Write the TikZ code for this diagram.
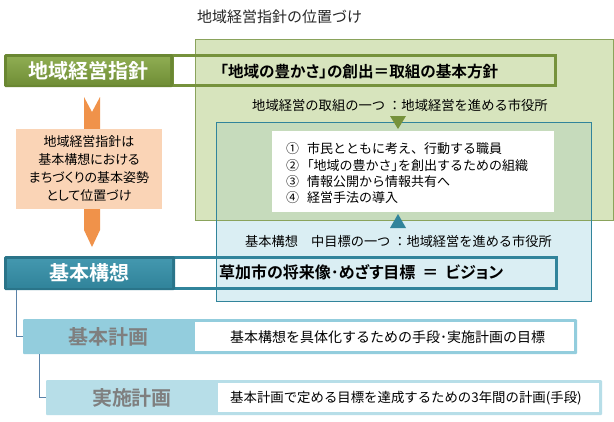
\documentclass[tikz,border=0pt]{standalone}
\usepackage{fontspec}
\setmainfont{Noto Sans CJK JP}[BoldFont={Noto Sans CJK JP Bold}]
\newfontfamily\jpp{Noto Sans CJK JP}[BoldFont={Noto Sans CJK JP Bold},RawFeature=+palt]
\definecolor{gbar}{HTML}{6A8732}
\definecolor{gbarT}{HTML}{8EAC52}
\definecolor{gbarB}{HTML}{718F37}
\definecolor{gline}{HTML}{76923C}
\definecolor{gfill}{HTML}{D7E4BD}
\definecolor{gedge}{HTML}{8AA35C}
\definecolor{bfill}{HTML}{DAEEF3}
\definecolor{bedge}{HTML}{31849B}
\definecolor{ovl}{HTML}{C6DBBC}
\definecolor{tbar}{HTML}{2A7489}
\definecolor{tbarT}{HTML}{4397AE}
\definecolor{tbarB}{HTML}{31849B}
\definecolor{orng}{HTML}{F0924A}
\definecolor{peach}{HTML}{FAD4B6}
\definecolor{kb1}{HTML}{93CDDD}
\definecolor{kb2}{HTML}{B7DEE8}
\definecolor{gtext}{HTML}{7F7F7F}
\definecolor{conn}{HTML}{5A82A8}
\begin{document}
\begin{tikzpicture}[x=1pt,y=-1pt,
  box/.style={rectangle,inner sep=0pt,outer sep=0pt,anchor=north west},
  lbl/.style={inner sep=0pt,anchor=west,text=black},
  bartext/.style={inner sep=0pt,text=white,font=\jpp\bfseries\fontsize{20}{20}\selectfont},
  graytext/.style={inner sep=0pt,text=gtext,font=\jpp\bfseries\fontsize{20}{20}\selectfont},
  connector/.style={draw=conn,line width=1pt}]
\useasboundingbox[fill=white] (0,0) rectangle (614,421);

% title
\node[lbl,font=\fontsize{15}{15}\selectfont,text=black!85] (title) at (197,17) {地域経営指針の位置づけ};

% large green and blue areas
\node[box,fill=gfill,minimum width=418,minimum height=181] (green) at (195,39) {};
\node[box,fill=bfill,minimum width=375,minimum height=179] (blue) at (216,122) {};
\node[box,fill=ovl,minimum width=375,minimum height=98] (overlap) at (216,122) {};
\draw[gedge,line width=1pt] (green.north west) rectangle (green.south east);
\draw[bedge,line width=1pt] (blue.north west) rectangle (blue.south east);

% list box
\node[box,fill=white,minimum width=282,minimum height=81] (list) at (272,131) {};
\node[inner sep=0pt,anchor=west,align=left,font=\fontsize{13}{16.3}\selectfont] (items) at (286,173.5)
 {①\hspace{8pt}市民とともに考え、行動する職員\\
  ②\hspace{8pt}{\jpp「}地域の豊かさ{\jpp」}を創出するための組織\\
  ③\hspace{8pt}情報公開から情報共有へ\\
  ④\hspace{8pt}経営手法の導入};

% triangles
\coordinate (dtri) at (398,116);
\coordinate (utri) at (398,228);
\fill[gline] (dtri) ++(-8,0) -- ++(16,0) -- ++(-8,13) -- cycle;
\fill[bedge] (utri) ++(-8,0) -- ++(16,0) -- ++(-8,-14) -- cycle;

\node[lbl,font=\fontsize{13.3}{13.3}\selectfont] (sub1) at (252,105) {地域経営の取組の一つ ：地域経営を進める市役所};
\node[lbl,font=\fontsize{13.2}{13.2}\selectfont] (sub2) at (245,241) {基本構想　中目標の一つ ：地域経営を進める市役所};

% green header
\draw[gline,line width=3.5pt] (172,55.7) rectangle (555.3,85.3);
\node[box,fill=gbar,rounded corners=1.5pt,minimum width=169,minimum height=33] (gb) at (4,54) {};
\fill[top color=gbarT,bottom color=gbarB] (7,57) rectangle (170,84);
\node[bartext] (gbt) at (gb.center) {地域経営指針};
\node[lbl,font=\jpp\bfseries\fontsize{15.6}{16}\selectfont] (policy) at (220,71.5) {「地域の豊かさ」の創出＝取組の基本方針};

% orange arrow and peach box
\fill[orng] (84,97) -- (92,112) -- (100,97) -- (100,230) -- (92,247) -- (84,230) -- cycle;
\node[box,fill=peach,minimum width=146,minimum height=80] (peach) at (16,129) {};
\node[inner sep=0pt,align=center,font=\jpp\fontsize{13}{18}\selectfont] (peachtext) at (89,169)
 {地域経営指針は\\基本構想における\\まちづくりの基本姿勢\\として位置づけ};

% teal header
\draw[bedge,line width=3.5pt] (172,257.7) rectangle (556.3,288.3);
\node[box,fill=tbar,rounded corners=1.5pt,minimum width=171,minimum height=34] (kb) at (4,256) {};
\fill[top color=tbarT,bottom color=tbarB] (7,259) rectangle (172,287);
\node[bartext] (kbt) at (kb.center) {基本構想};
\node[lbl,font=\jpp\bfseries\fontsize{16}{16}\selectfont] (vision) at (219,272.5) {草加市の将来像･めざす目標\hspace{7pt}＝\hspace{7pt}ビジョン};

% kihon keikaku
\node[box,fill=kb1,rounded corners=1pt,minimum width=554,minimum height=35] (kp) at (23,319) {};
\node[box,fill=white,minimum width=379,minimum height=29] (kpw) at (195,322) {};
\node[graytext] (kpt) at (108,337) {基本計画};
\node[lbl,font=\fontsize{14}{14}\selectfont] (kptx) at (230,337) {基本構想を具体化するための手段･実施計画の目標};

% jisshi keikaku
\node[box,fill=kb2,rounded corners=1pt,minimum width=556,minimum height=35] (jp) at (46,380) {};
\node[box,fill=white,minimum width=381,minimum height=29] (jpw) at (218,383) {};
\node[graytext] (jpt) at (132,398) {実施計画};
\node[lbl,font=\fontsize{13.4}{13.4}\selectfont] (jptx) at (230,398) {基本計画で定める目標を達成するための3年間の計画(手段)};

% connectors
\draw[connector] ([xshift=12pt]kb.south west) |- (kp.west);
\draw[connector] ([xshift=16pt]kp.south west) |- (jp.west);
\end{tikzpicture}
\end{document}
